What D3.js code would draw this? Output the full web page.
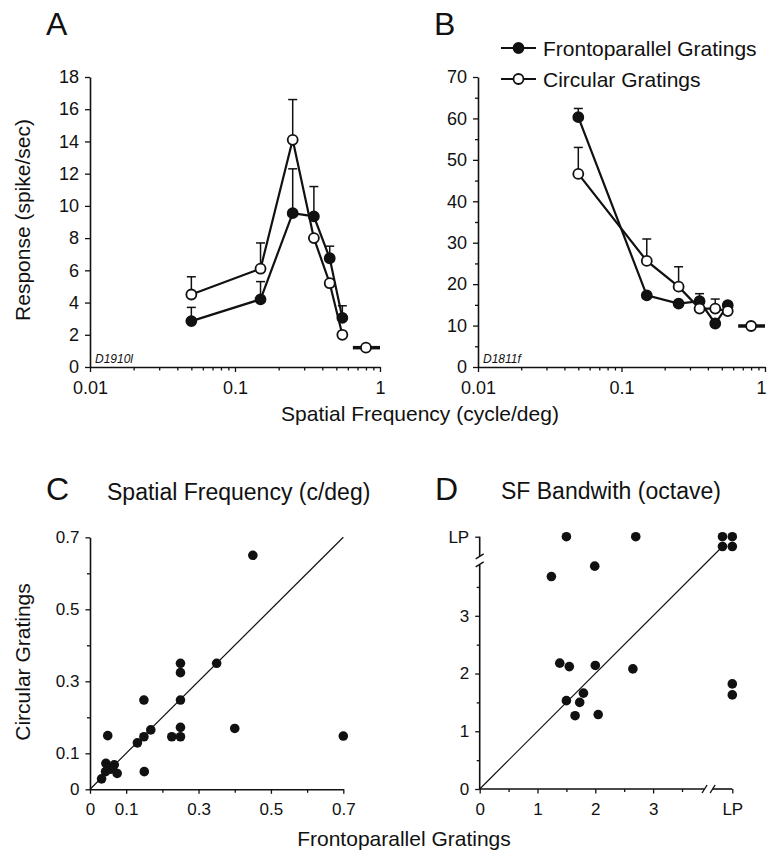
<!DOCTYPE html>
<html><head><meta charset="utf-8">
<script src="https://cdn.jsdelivr.net/npm/d3@7"></script>
<style>
body{margin:0;background:#fff}
svg{display:block}
text{font-family:"Liberation Sans",Arial,Helvetica,sans-serif;fill:#111}
</style>
</head><body>
<svg id="chart" width="768" height="851"></svg>
<script>
// ---------- DATA ----------
const sfs = [0.05, 0.15, 0.25, 0.35, 0.45, 0.55];
const aFronto    = [2.85, 4.2, 9.55, 9.35, 6.75, 3.05];
const aFrontoErr = [3.7, 5.3, 12.3, 11.2, 7.5, 3.8];
const aCirc      = [4.5, 6.1, 14.1, 8.0, 5.2, 2.0];
const aCircErr   = [5.6, 7.7, 16.6, null, null, null];
const aSpont = 1.2;
const bFronto    = [60.3, 17.3, 15.3, 15.9, 10.5, 14.9];
const bFrontoErr = [62.4, null, null, 17.7, null, 15.6];
const bCirc      = [46.6, 25.6, 19.4, 14.1, 14.1, 13.5];
const bCircErr   = [53.0, 30.9, 24.2, null, 16.4, null];
const bSpont = 9.9;
const spontSf = [0.65, 0.8, 1.0];
const logMajor = [0.01, 0.1, 1];
const aYTicks = [0,2,4,6,8,10,12,14,16,18];
const bYTicks = [0,10,20,30,40,50,60,70];

const cFronto = [0.45,0.35,0.25,0.25,0.25,0.25,0.25,0.226,0.40,0.70,0.149,0.149,0.168,0.131,0.15,0.049,0.044,0.067,0.058,0.075,0.043,0.032];
const cCirc   = [0.65,0.35,0.35,0.324,0.248,0.172,0.146,0.146,0.169,0.148,0.248,0.146,0.165,0.129,0.049,0.149,0.072,0.068,0.056,0.044,0.049,0.029];
const cTicks = [0, 0.1, 0.3, 0.5, 0.7];
const cMinor = [0.2, 0.4, 0.6];

const LP = 4.37;   // position of the "LP" (low-pass) category on the bandwidth axes
const dFronto = [1.5, 2.7, 4.2, LP, 4.2, LP, 1.24, 1.99, 1.385, 1.55, 2.0, 2.65, 1.795, 1.5, 1.73, 1.65, 2.05, LP, LP];
const dCirc   = [LP, LP, LP, LP, 4.2, 4.2, 3.68, 3.86, 2.18, 2.12, 2.14, 2.08, 1.66, 1.53, 1.50, 1.27, 1.29, 1.82, 1.63];
const dTicks = [0, 1, 2, 3];
const dMinor = [0.5, 1.5, 2.5, 3.5];
const dBreak = 3.96;

// ---------- DRAW ----------
const svg = d3.select("#chart");
const F = '"Liberation Sans",Arial,sans-serif';

function styleAxis(g, fs){
  g.select(".domain").attr("stroke","#111").attr("stroke-width",1.6);
  g.selectAll(".tick line").attr("stroke","#111").attr("stroke-width",1.3);
  g.selectAll(".tick text").attr("font-size",fs).attr("font-family",F).attr("fill","#111");
}

function tuningPanel(opt){
  const x = d3.scaleLog().domain([0.01,1]).range([opt.x0,opt.x1]);
  const y = d3.scaleLinear().domain([0,opt.ymax]).range([367,77]);
  const minor = [];
  [0.01,0.1].forEach(d=>{for(let k=2;k<10;k++) minor.push(d*k);});
  svg.append("g").attr("transform","translate(0,367)")
    .call(d3.axisBottom(x).tickValues(minor).tickSize(3.5).tickFormat(""))
    .call(g=>{styleAxis(g,18); g.select(".domain").remove();});
  svg.append("g").attr("transform","translate(0,367)")
    .call(d3.axisBottom(x).tickValues(logMajor).tickSize(5).tickSizeOuter(0).tickPadding(9)
      .tickFormat(d=>d===1?"1":d===0.1?"0.1":"0.01"))
    .call(g=>{
      styleAxis(g,18);
      if(opt.lastShift) g.selectAll(".tick text").filter(d=>d===1).attr("dx",opt.lastShift);
    });
  if(opt.yMinor){
    svg.append("g").attr("transform",`translate(${opt.x0},0)`)
      .call(d3.axisLeft(y).tickValues(opt.yMinor).tickSize(3).tickFormat(""))
      .call(g=>{styleAxis(g,18); g.select(".domain").remove();});
  }
  svg.append("g").attr("transform",`translate(${opt.x0},0)`)
    .call(d3.axisLeft(y).tickValues(opt.yTicks).tickSize(5).tickSizeOuter(0).tickPadding(6))
    .call(g=>styleAxis(g,18));

  const series = [
    {v:opt.fronto, e:opt.frontoErr, fill:"#111"},
    {v:opt.circ, e:opt.circErr, fill:"#fff"}
  ];
  series.forEach(s=>{
    s.v.forEach((v,i)=>{
      if(s.e[i]==null) return;
      const cx = x(sfs[i]);
      svg.append("line").attr("x1",cx).attr("x2",cx).attr("y1",y(v)).attr("y2",y(s.e[i]))
        .attr("stroke","#111").attr("stroke-width",1.5);
      svg.append("line").attr("x1",cx-4.5).attr("x2",cx+4.5).attr("y1",y(s.e[i])).attr("y2",y(s.e[i]))
        .attr("stroke","#111").attr("stroke-width",1.5);
    });
  });
  const line = d3.line().x((d,i)=>x(sfs[i])).y(d=>y(d));
  [series[1],series[0]].forEach(s=>{
    svg.append("path").attr("d",line(s.v)).attr("fill","none").attr("stroke","#111").attr("stroke-width",2.2);
  });
  [series[0],series[1]].forEach(s=>{
    svg.selectAll(null).data(s.v).enter().append("circle")
      .attr("cx",(d,i)=>x(sfs[i])).attr("cy",d=>y(d)).attr("r",5)
      .attr("fill",s.fill).attr("stroke","#111").attr("stroke-width",1.8);
  });
  svg.append("line").attr("x1",x(spontSf[0])).attr("x2",x(spontSf[2]))
    .attr("y1",y(opt.spont)).attr("y2",y(opt.spont)).attr("stroke","#111").attr("stroke-width",3.5);
  svg.append("circle").attr("cx",x(spontSf[1])).attr("cy",y(opt.spont)).attr("r",5)
    .attr("fill","#fff").attr("stroke","#111").attr("stroke-width",1.8);
  svg.append("text").attr("x",opt.x0+5).attr("y",363).attr("font-size",12).attr("font-style","italic")
    .text(opt.id);
  svg.append("text").attr("x",opt.letterX).attr("y",35).attr("font-size",32).text(opt.letter);
}

tuningPanel({x0:90,x1:380,ymax:18,yTicks:aYTicks,fronto:aFronto,frontoErr:aFrontoErr,circ:aCirc,circErr:aCircErr,
  spont:aSpont,id:"D1910l",letter:"A",letterX:46});
tuningPanel({x0:478,x1:765,ymax:70,yTicks:bYTicks,yMinor:[5,15,25,35,45,55,65],fronto:bFronto,frontoErr:bFrontoErr,circ:bCirc,circErr:bCircErr,
  spont:bSpont,id:"D1811f",letter:"B",letterX:434,lastShift:-4});

svg.append("text").attr("transform","translate(30,220) rotate(-90)").attr("text-anchor","middle")
  .attr("font-size",21).text("Response (spike/sec)");
svg.append("text").attr("x",420).attr("y",421).attr("text-anchor","middle")
  .attr("font-size",21).text("Spatial Frequency (cycle/deg)");

const legend = [{label:"Frontoparallel Gratings",fill:"#111",y:48},{label:"Circular Gratings",fill:"#fff",y:79}];
legend.forEach(l=>{
  svg.append("line").attr("x1",501).attr("x2",536).attr("y1",l.y).attr("y2",l.y).attr("stroke","#111").attr("stroke-width",2.2);
  svg.append("circle").attr("cx",518.5).attr("cy",l.y).attr("r",5).attr("fill",l.fill).attr("stroke","#111").attr("stroke-width",1.8);
  svg.append("text").attr("x",543).attr("y",l.y+7.5).attr("font-size",21).text(l.label);
});

// ---------- Panel C ----------
{
  const x = d3.scaleLinear().domain([0,0.7]).range([90,343.3]);
  const y = d3.scaleLinear().domain([0,0.7]).range([789.3,537.3]);
  svg.append("g").attr("transform","translate(0,789.3)")
    .call(d3.axisBottom(x).tickValues(cMinor).tickSize(3.5).tickFormat(""))
    .call(g=>{styleAxis(g,17); g.select(".domain").remove();});
  svg.append("g").attr("transform","translate(0,789.3)")
    .call(d3.axisBottom(x).tickValues(cTicks).tickSize(4.5).tickSizeOuter(0).tickPadding(9).tickFormat(d=>d===0?"0":d3.format(".1f")(d)))
    .call(g=>styleAxis(g,17));
  svg.append("g").attr("transform","translate(90,0)")
    .call(d3.axisLeft(y).tickValues(cMinor).tickSize(3).tickFormat(""))
    .call(g=>{styleAxis(g,17); g.select(".domain").remove();});
  svg.append("g").attr("transform","translate(90,0)")
    .call(d3.axisLeft(y).tickValues(cTicks).tickSize(4.5).tickSizeOuter(0).tickPadding(6).tickFormat(d=>d===0?"0":d3.format(".1f")(d)))
    .call(g=>styleAxis(g,17));
  svg.append("line").attr("x1",x(0)).attr("y1",y(0)).attr("x2",x(0.7)).attr("y2",y(0.7))
    .attr("stroke","#111").attr("stroke-width",1.2);
  svg.selectAll(null).data(cFronto).enter().append("circle")
    .attr("cx",d=>x(d)).attr("cy",(d,i)=>y(cCirc[i])).attr("r",4.8).attr("fill","#111");
  svg.append("text").attr("x",46).attr("y",500).attr("font-size",32).text("C");
  svg.append("text").attr("x",107).attr("y",500).attr("font-size",23).text("Spatial Frequency (c/deg)");
}

// ---------- Panel D ----------
{
  const x = d3.scaleLinear().domain([0,LP]).range([479.7,732.3]);
  const y = d3.scaleLinear().domain([0,LP]).range([789,536.7]);
  const fmt = d=>d===LP?"LP":String(d);
  svg.append("g").attr("transform","translate(0,789)")
    .call(d3.axisBottom(x).tickValues(dMinor).tickSize(3).tickFormat(""))
    .call(g=>{styleAxis(g,17); g.select(".domain").remove();});
  svg.append("g").attr("transform","translate(0,789)")
    .call(d3.axisBottom(x).tickValues(dTicks.concat([LP])).tickSize(4.5).tickSizeOuter(0).tickPadding(9).tickFormat(fmt))
    .call(g=>{styleAxis(g,17); g.select(".domain").remove();});
  svg.append("g").attr("transform","translate(479.7,0)")
    .call(d3.axisLeft(y).tickValues(dMinor).tickSize(3).tickFormat(""))
    .call(g=>{styleAxis(g,17); g.select(".domain").remove();});
  svg.append("g").attr("transform","translate(479.7,0)")
    .call(d3.axisLeft(y).tickValues(dTicks.concat([LP])).tickSize(4.5).tickSizeOuter(0).tickPadding(6).tickFormat(fmt))
    .call(g=>{styleAxis(g,17); g.select(".domain").remove();});
  const gap = 0.07;
  const ax = [[0,dBreak-gap],[dBreak+gap,LP]];
  ax.forEach(([a,b])=>{
    svg.append("line").attr("x1",x(a)).attr("x2",x(b)).attr("y1",789).attr("y2",789).attr("stroke","#111").attr("stroke-width",1.6);
    svg.append("line").attr("y1",y(a)).attr("y2",y(b)).attr("x1",479.7).attr("x2",479.7).attr("stroke","#111").attr("stroke-width",1.6);
  });
  [-1,1].forEach(s=>{
    const bx = x(dBreak + s*gap);
    svg.append("line").attr("x1",bx-2.5).attr("x2",bx+2.5).attr("y1",789+4).attr("y2",789-4).attr("stroke","#111").attr("stroke-width",1.4);
    const by = y(dBreak + s*gap);
    svg.append("line").attr("x1",479.7-4).attr("x2",479.7+4).attr("y1",by+2.5).attr("y2",by-2.5).attr("stroke","#111").attr("stroke-width",1.4);
  });
  svg.append("line").attr("x1",x(0)).attr("y1",y(0)).attr("x2",x(4.2)).attr("y2",y(4.2))
    .attr("stroke","#111").attr("stroke-width",1.2);
  svg.selectAll(null).data(dFronto).enter().append("circle")
    .attr("cx",d=>x(d)).attr("cy",(d,i)=>y(dCirc[i])).attr("r",4.8).attr("fill","#111");
  svg.append("text").attr("x",435).attr("y",500).attr("font-size",32).text("D");
  svg.append("text").attr("x",501).attr("y",499).attr("font-size",23).text("SF Bandwith (octave)");
}

svg.append("text").attr("transform","translate(30,662) rotate(-90)").attr("text-anchor","middle")
  .attr("font-size",21).text("Circular Gratings");
svg.append("text").attr("x",404).attr("y",846).attr("text-anchor","middle")
  .attr("font-size",21).text("Frontoparallel Gratings");
</script>
</body></html>
